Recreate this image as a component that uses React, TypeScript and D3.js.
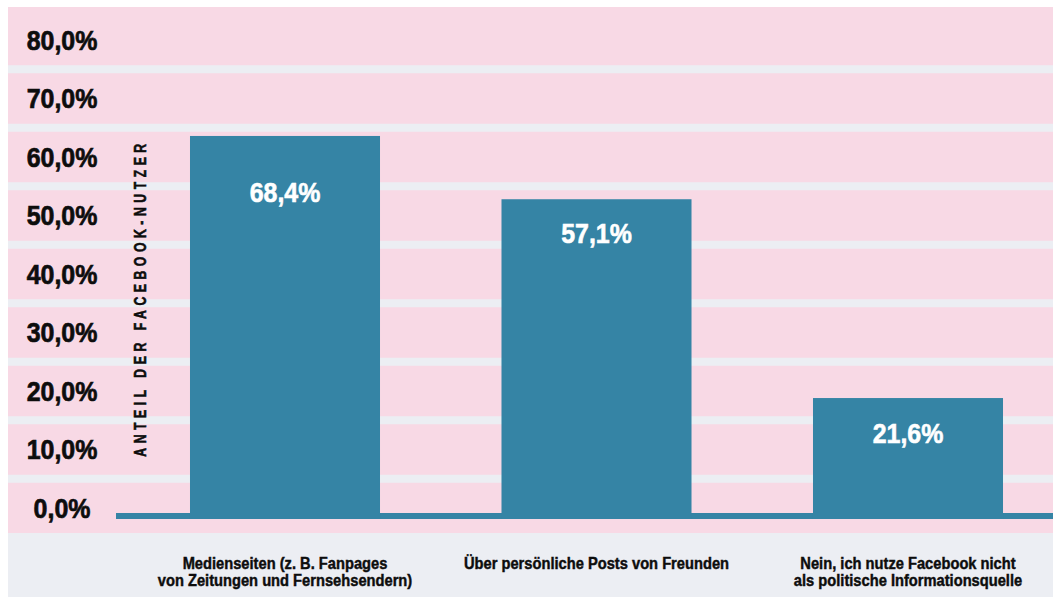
import React from "react";
import * as d3 from "d3";

const categories = [
  ["Medienseiten (z. B. Fanpages", "von Zeitungen und Fernsehsendern)"],
  ["Über persönliche Posts von Freunden"],
  ["Nein, ich nutze Facebook nicht", "als politische Informationsquelle"],
];
const values = [68.4, 57.1, 21.6];
const valueLabels = ["68,4%", "57,1%", "21,6%"];
const tickValues = [0, 10, 20, 30, 40, 50, 60, 70, 80];
const tickLabels = ["0,0%", "10,0%", "20,0%", "30,0%", "40,0%", "50,0%", "60,0%", "70,0%", "80,0%"];
const axisTitle = "ANTEIL DER FACEBOOK-NUTZER";

const W = 1053;
const H = 597;
const PINK = "#f8d9e5";
const GRAY = "#eceef3";
const BLUE = "#3584a5";
const INK = "#0d0d0d";
const FONT = "'Liberation Sans', Arial, sans-serif";
const SQUEEZE = 0.89;
const LABEL_DY = [57, 34, 35];

export default function App() {
  const yAxis = d3.scaleLinear().domain([0, 80]).range([508, 40]);
  const yBar = d3.scaleLinear().domain([0, 80]).range([519, 519 - 80 * 5.6]);
  const idx = values.map((_, i) => String(i));
  const x = d3
    .scaleBand<string>()
    .domain(idx)
    .range([129.25, 1063.75])
    .paddingInner(0.39)
    .paddingOuter(0.195);
  const cx = (i: number) => (x(String(i)) as number) + x.bandwidth() / 2;

  const separators = tickValues.slice(0, -1).map((t) => yAxis(t + 5));

  return (
    <svg
      width={W}
      height={H}
      style={{ position: "absolute", left: 0, top: 0, background: "#fff" }}
    >
      <rect x={8} y={7} width={W - 8} height={533 - 7} fill={PINK} />
      <rect x={8} y={533} width={W - 8} height={H - 533} fill={GRAY} />
      {separators.map((s, i) => (
        <rect key={i} x={8} y={s - 4} width={W - 8} height={8} fill={GRAY} />
      ))}
      {tickValues.map((t, i) => (
        <text
          key={t}
          transform={`translate(62,${yAxis(t)}) scale(${SQUEEZE},1)`}
          textAnchor="middle"
          dominantBaseline="central"
          fontFamily={FONT}
          fontWeight="bold"
          fontSize={28}
          fill={INK}
          stroke={INK}
          strokeWidth={0.7}
        >
          {tickLabels[i]}
        </text>
      ))}
      <text
        transform={`translate(140,298) rotate(-90) scale(0.72,1)`}
        textAnchor="middle"
        dominantBaseline="central"
        fontFamily={FONT}
        fontWeight="bold"
        fontSize={17}
        letterSpacing={6.3}
        fill={INK}
        stroke={INK}
        strokeWidth={0.6}
      >
        {axisTitle}
      </text>
      <rect x={116} y={513} width={W - 116} height={6} fill={BLUE} />
      {values.map((v, i) => (
        <rect
          key={i}
          x={x(String(i))}
          y={yBar(v)}
          width={x.bandwidth()}
          height={yBar(0) - yBar(v)}
          fill={BLUE}
        />
      ))}
      {values.map((v, i) => (
        <text
          key={i}
          transform={`translate(${cx(i)},${yBar(v) + LABEL_DY[i]}) scale(${SQUEEZE},1)`}
          textAnchor="middle"
          dominantBaseline="central"
          fontFamily={FONT}
          fontWeight="bold"
          fontSize={28}
          fill="#fff"
          stroke="#fff"
          strokeWidth={0.6}
        >
          {valueLabels[i]}
        </text>
      ))}
      {categories.map((lines, i) => (
        <text
          key={i}
          transform={`translate(${cx(i)},0) scale(${SQUEEZE},1)`}
          textAnchor="middle"
          fontFamily={FONT}
          fontWeight="bold"
          fontSize={16.5}
          fill={INK}
          stroke={INK}
          strokeWidth={0.45}
        >
          {lines.map((l, j) => (
            <tspan key={j} x={0} y={569 + j * 17}>
              {l}
            </tspan>
          ))}
        </text>
      ))}
    </svg>
  );
}
